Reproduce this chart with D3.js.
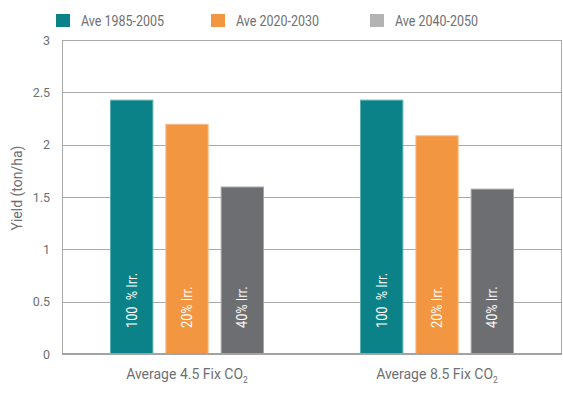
<!DOCTYPE html>
<html>
<head>
<meta charset="utf-8">
<script src="https://cdn.jsdelivr.net/npm/d3@7"></script>
<style>
  html, body { margin: 0; padding: 0; background: #fff; }
  svg { display: block; font-family: "Roboto", "Liberation Sans", "DejaVu Sans", sans-serif; }
</style>
</head>
<body>
<svg id="chart" width="563" height="402"></svg>
<script>
// Scenario groups along the x axis
const groups = ["Average 4.5 Fix CO2", "Average 8.5 Fix CO2"];
const groupMain = ["Average 4.5 Fix CO", "Average 8.5 Fix CO"];
// Periods (series)
const series = ["Ave 1985-2005", "Ave 2020-2030", "Ave 2040-2050"];
// Yield values (ton/ha), one array per period
const ave1985 = [2.43, 2.43];
const ave2020 = [2.20, 2.09];
const ave2040 = [1.60, 1.58];
// Text written inside each bar of a group
const barLabels = ["100\u00a0\u00a0% Irr.", "20% Irr.", "40% Irr."];
// Y axis ticks
const yTicks = [0, 0.5, 1, 1.5, 2, 2.5, 3];
const yTickLabels = ["0", "0.5", "1", "1.5", "2", "2.5", "3"];

const barColors = ["#0b8287", "#f39641", "#6d6e71"];
const legendColors = ["#0b8287", "#f39641", "#b3b3b3"];
const edgeColors = ["#5aaeb1", "#f8c18e", "#a5a6a8"];
const textColor = "#6f7073";

const values = [ave1985, ave2020, ave2040];
const svg = d3.select("#chart");
const W = 563, H = 402;
const m = { left: 62, right: 1, top: 40, bottom: 48 };

const x0 = d3.scaleBand().domain(groups).range([m.left, W - m.right]).paddingInner(0).paddingOuter(0);
const innerWidth = 154;
const x1 = d3.scaleBand().domain(series).range([0, innerWidth]).paddingInner(0.2165).paddingOuter(0);
const y = d3.scaleLinear().domain([0, 3]).range([H - m.bottom, m.top]);

// Gridlines
svg.append("g")
  .selectAll("line")
  .data(yTicks.filter(t => t > 0))
  .join("line")
  .attr("x1", m.left).attr("x2", W - m.right)
  .attr("y1", d => Math.round(y(d)) + 0.5).attr("y2", d => Math.round(y(d)) + 0.5)
  .attr("stroke", "#a9a9a9").attr("stroke-width", 1);

// Plot frame (left and right edges)
svg.append("line").attr("x1", m.left + 0.5).attr("x2", m.left + 0.5)
  .attr("y1", m.top).attr("y2", y(0)).attr("stroke", "#a9a9a9");
svg.append("line").attr("x1", W - m.right - 0.5).attr("x2", W - m.right - 0.5)
  .attr("y1", m.top).attr("y2", y(0)).attr("stroke", "#a9a9a9");

// Bars with their rotated labels
const gGroups = svg.append("g").selectAll("g")
  .data(groups)
  .join("g")
  .attr("transform", g => `translate(${x0(g) + (x0.bandwidth() - innerWidth) / 2},0)`);

gGroups.each(function(g, gi) {
  const sel = d3.select(this);
  series.forEach((s, si) => {
    const v = values[si][gi];
    sel.append("rect")
      .attr("x", x1(s) + 0.5)
      .attr("y", y(v) + 0.5)
      .attr("width", x1.bandwidth() - 1)
      .attr("height", y(0) - y(v) - 0.5)
      .attr("fill", barColors[si])
      .attr("stroke", edgeColors[si])
      .attr("stroke-width", 1);
    const cx = x1(s) + x1.bandwidth() / 2;
    sel.append("text")
      .attr("transform", `translate(${cx + 5},${y(0) - 26}) rotate(-90) scale(0.88,1)`)
      .attr("fill", "#ffffff")
      .attr("font-size", 14.5)
      .text(barLabels[si]);
  });
});

// Baseline
svg.append("line").attr("x1", m.left).attr("x2", W - m.right)
  .attr("y1", y(0)).attr("y2", y(0))
  .attr("stroke", "#a3a3a3").attr("stroke-width", 2);

// Y axis tick labels
svg.append("g").selectAll("text")
  .data(yTicks)
  .join("text")
  .attr("x", 50).attr("y", d => y(d) + 4.5)
  .attr("text-anchor", "end")
  .attr("fill", textColor).attr("font-size", 12.5)
  .text((d, i) => yTickLabels[i]);

// Y axis title
svg.append("text")
  .attr("transform", `translate(22,188) rotate(-90)`)
  .attr("text-anchor", "middle")
  .attr("fill", textColor).attr("font-size", 14)
  .text("Yield (ton/ha)");

// X axis category labels with subscript 2
const xl = svg.append("g").selectAll("text")
  .data(groups)
  .join("text")
  .attr("x", g => x0(g) + x0.bandwidth() / 2)
  .attr("y", 379)
  .attr("text-anchor", "middle")
  .attr("fill", textColor).attr("font-size", 14);
xl.append("tspan").text((g, i) => groupMain[i]);
xl.append("tspan").attr("font-size", 8.5).attr("dy", 4).text("2");

// Legend
const legendX = [56, 211, 370];
const leg = svg.append("g").selectAll("g")
  .data(series)
  .join("g")
  .attr("transform", (s, i) => `translate(${legendX[i]},14)`);
leg.append("rect").attr("width", 14).attr("height", 13)
  .attr("fill", (s, i) => legendColors[i]);
leg.append("text").attr("x", 25).attr("y", 11.5)
  .attr("fill", textColor).attr("font-size", 14)
  .attr("textLength", 83).attr("lengthAdjust", "spacingAndGlyphs")
  .text(s => s);
</script>
</body>
</html>
